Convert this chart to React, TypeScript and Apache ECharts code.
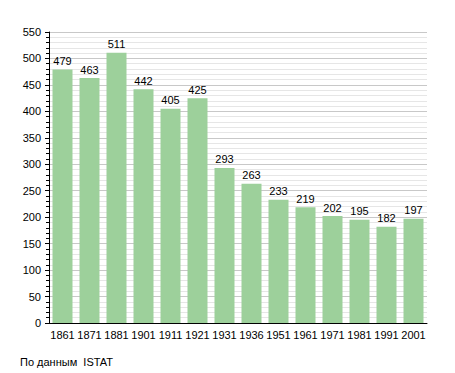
import React, { useEffect, useRef } from "react";
import * as echarts from "echarts";

const categories = ["1861", "1871", "1881", "1901", "1911", "1921", "1931", "1936", "1951", "1961", "1971", "1981", "1991", "2001"];
const population = [479, 463, 511, 442, 405, 425, 293, 263, 233, 219, 202, 195, 182, 197];
const yTicks = { min: 0, max: 550, interval: 50 };
const footer = "По данным  ISTAT";

export default function App() {
  const ref = useRef<HTMLDivElement>(null);
  useEffect(() => {
    const chart = echarts.init(ref.current!, null, { renderer: "svg" });
    chart.setOption({
      animation: false,
      backgroundColor: "#ffffff",
      textStyle: { fontFamily: "Liberation Sans, Arial, sans-serif" },
      grid: { left: 49, right: 28, top: 32, bottom: 50 },
      xAxis: {
        type: "category",
        data: categories,
        axisLine: { lineStyle: { color: "#000", width: 1 } },
        axisTick: { show: false },
        axisLabel: { color: "#000", fontSize: 11, margin: 6, interval: 0 },
      },
      yAxis: {
        type: "value",
        min: yTicks.min,
        max: yTicks.max,
        interval: yTicks.interval,
        axisLine: { show: true, lineStyle: { color: "#000", width: 1 } },
        axisTick: { show: true, length: 4, lineStyle: { color: "#000" } },
        minorTick: { show: true, splitNumber: 5, length: 3, lineStyle: { color: "#000" } },
        axisLabel: { color: "#000", fontSize: 11, margin: 8 },
        splitLine: { lineStyle: { color: "#c8c8c8", width: 1 } },
        minorSplitLine: { show: true, lineStyle: { color: "#e6e6e6", width: 1 } },
      },
      series: [
        {
          type: "bar",
          data: population,
          barWidth: 20,
          itemStyle: { color: "#9dd09b" },
          label: { show: true, position: "top", color: "#000", fontSize: 11, distance: 3 },
        },
      ],
      graphic: [
        {
          type: "text",
          left: 20,
          top: 356,
          style: { text: footer, fontSize: 11, fill: "#000", fontFamily: "Liberation Sans, Arial, sans-serif" },
        },
      ],
    });
    return () => chart.dispose();
  }, []);
  return <div ref={ref} style={{ width: 455, height: 373, position: "absolute", left: 0, top: 0 }} />;
}
